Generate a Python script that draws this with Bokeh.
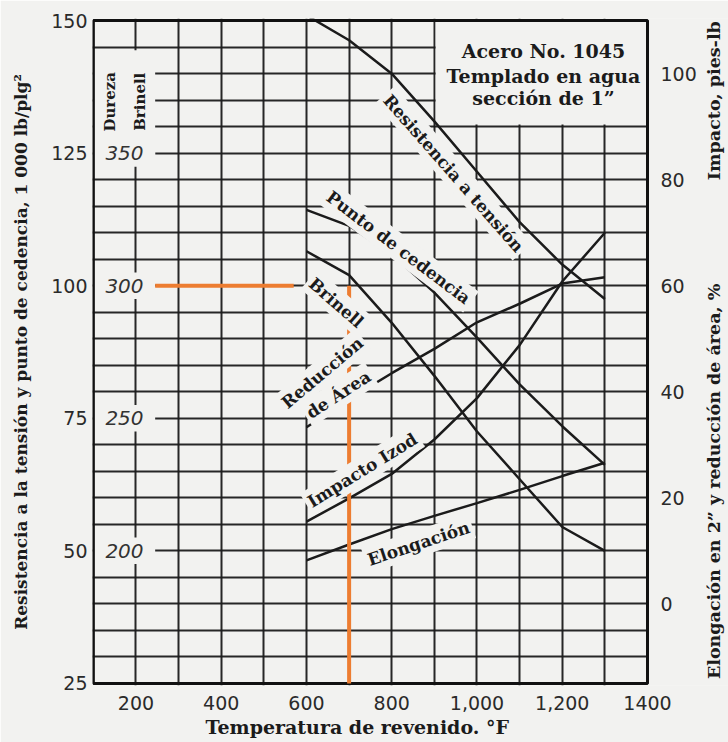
import math
from bokeh.plotting import figure
from bokeh.models import Range1d, LinearAxis, FixedTicker, Label, Title
from bokeh.embed import file_html
from bokeh.resources import INLINE
from bokeh.core.properties import value

# ---------------- data ----------------
temp_f = [600, 700, 800, 900, 1000, 1100, 1200, 1300]
tensile_ksi = [151, 146.3, 140, 131, 121.5, 112, 104, 97.5]
yield_ksi = [114.3, 111.3, 105.9, 98.7, 90.2, 81.4, 73.5, 66.2]
brinell_hb = [313, 304, 286, 266, 245, 227, 209, 200]
reduction_area_pct = [33.3, 38.6, 43.5, 48.1, 53.1, 56.6, 60.4, 61.6]
impact_izod_ftlb = [15.5, 19.9, 24.5, 31.0, 38.8, 48.8, 60.8, 70.0]
elongation_pct = [8.2, 11.2, 14.1, 16.6, 19.0, 21.5, 24.1, 26.6]

x_ticks = [200, 400, 600, 800, 1000, 1200, 1400]
x_tick_labels = ["200", "400", "600", "800", "1,000", "1,200", "1400"]
left_ticks = [25, 50, 75, 100, 125, 150]
right_ticks = [0, 20, 40, 60, 80, 100]
brinell_ticks = [200, 250, 300, 350]

# chart box (data extent of the printed grid)
T_MIN, T_MAX = 100, 1400
S_MIN, S_MAX = 25, 150

# reading guide (orange): Brinell 300 at 700 °F
guide_temp_f = 700
guide_ksi = 100
guide_h_from, guide_h_to = 245, 570

right_title_low = "Elongación en 2\u201d y reducción de área, %"
right_title_high = "Impacto, pies-lb"

# ---------------- style ----------------
BG = "#f2f2f0"
INK = "#1b1b1b"
ORANGE = "#ED7D31"
SERIF = "DejaVu Serif"
SANS = "DejaVu Sans"

# the frame is widened to the right edge of the page so that the right-hand
# titles (reading upwards) can be placed as labels
X_END = 1590
p = figure(width=728, height=742,
           x_range=Range1d(98, X_END), y_range=Range1d(24.6, 150.4),
           output_backend="svg", toolbar_location=None,
           min_border_left=92, min_border_right=0,
           min_border_top=18, min_border_bottom=57,
           background_fill_color=BG, border_fill_color=BG)
p.extra_y_ranges = {"right": Range1d(-15.4, 110.4), "brinell": Range1d(149.2, 400.8)}
p.outline_line_color = None

# grid
p.xgrid.ticker = FixedTicker(ticks=list(range(200, 1400, 100)))
p.ygrid.ticker = FixedTicker(ticks=list(range(30, 150, 5)))
for g in (p.xgrid[0], p.ygrid[0]):
    g.grid_line_color = INK
    g.grid_line_width = 2
    g.grid_line_alpha = 0.95

# axes
xa = p.xaxis[0]
xa.ticker = FixedTicker(ticks=x_ticks)
xa.major_label_overrides = {t: s for t, s in zip(x_ticks, x_tick_labels)}
xa.major_label_standoff = 10

ya = p.yaxis[0]
ya.ticker = FixedTicker(ticks=left_ticks)
ya.axis_label = "Resistencia a la tensión y punto de cedencia, 1 000 lb/plg²"
ya.major_label_standoff = 5
ya.axis_label_standoff = 17

ra = LinearAxis(y_range_name="right", ticker=FixedTicker(ticks=right_ticks),
                fixed_location=T_MAX)
ra.major_label_standoff = 13
p.add_layout(ra, "right")

for ax in (xa, ya, ra):
    ax.axis_line_color = None
    ax.major_tick_line_color = None
    ax.minor_tick_line_color = None
    ax.major_tick_out = 0
    ax.major_tick_in = 0
    ax.minor_tick_out = 0
    ax.minor_tick_in = 0
    ax.major_label_text_font = SANS
    ax.major_label_text_font_size = "19px"
    ax.major_label_text_color = "#2a2a2a"
    ax.axis_label_text_font = SERIF
    ax.axis_label_text_font_style = "bold"
    ax.axis_label_text_color = INK
ya.axis_label_text_font_size = "17px"

p.add_layout(Title(text="Temperatura de revenido. °F", align="left", offset=113,
                   standoff=2, text_font=SERIF, text_font_size="19px",
                   text_font_style="bold", text_color=INK), "below")

# masks (blank areas of the printed grid)
p.quad(left=[T_MAX], right=[X_END], bottom=[24.6], top=[150.4], fill_color=BG, line_color=None)
p.quad(left=[903], right=[T_MAX], bottom=[130.4], top=[S_MAX], fill_color=BG, line_color=None)
p.quad(left=[T_MIN], right=[245], bottom=[122.5], top=[144.4], fill_color=BG, line_color=None)
p.quad(left=[T_MIN] * len(brinell_ticks), right=[245] * len(brinell_ticks),
       bottom=[b - 5 for b in brinell_ticks], top=[b + 5 for b in brinell_ticks],
       y_range_name="brinell", fill_color=BG, line_color=None)

# Brinell inner scale
p.text(x=[173] * len(brinell_ticks), y=brinell_ticks, text=[str(b) for b in brinell_ticks],
       y_range_name="brinell", text_font=value(SANS), text_font_style="italic",
       text_font_size="20px", text_align="center", text_baseline="middle", text_color="#333333")

# curves
lw = 2.5
p.line(temp_f, tensile_ksi, line_color=INK, line_width=lw)
p.line(temp_f, yield_ksi, line_color=INK, line_width=lw)
p.line(temp_f, brinell_hb, y_range_name="brinell", line_color=INK, line_width=lw)
p.line(temp_f, reduction_area_pct, y_range_name="right", line_color=INK, line_width=lw)
p.line(temp_f, impact_izod_ftlb, y_range_name="right", line_color=INK, line_width=lw)
p.line(temp_f, elongation_pct, y_range_name="right", line_color=INK, line_width=lw)

# cover the tensile curve above the chart box, then draw the box outline
p.quad(left=[T_MIN], right=[T_MAX], bottom=[S_MAX], top=[150.4], fill_color=BG, line_color=None)
p.quad(left=[T_MIN], right=[T_MAX], bottom=[S_MIN], top=[S_MAX],
       fill_color=None, line_color="#111111", line_width=3)

# orange reading guide
p.segment(x0=[guide_h_from], y0=[guide_ksi], x1=[guide_h_to], y1=[guide_ksi],
          line_color=ORANGE, line_width=4)
p.segment(x0=[guide_temp_f], y0=[S_MIN], x1=[guide_temp_f], y1=[guide_ksi],
          line_color=ORANGE, line_width=4)


def lab(text, x, y, deg, size="17px", bg=True, font=SERIF, style="bold"):
    l = Label(x=x, y=y, text=text, angle=math.radians(deg),
              text_align="center", text_baseline="middle",
              text_font=font, text_font_style=style, text_font_size=size,
              text_color=INK)
    if bg:
        l.background_fill_color = BG
        l.padding = 3
    p.add_layout(l)
    return l


# curve labels
lab("Resistencia a tensión", 945, 121.2, -48.8)
lab("Punto de cedencia", 816, 107.2, -37)
lab("Brinell", 670, 96.8, -41)
lab("Reducción", 637, 83.6, 40)
lab("de Área", 675, 79.5, 33)
lab("Impacto Izod", 731, 65.2, 31.7)
lab("Elongación", 863, 51.4, 18.4)

# title box
lab("Acero No. 1045", 1156, 144.3, 0, size="19px", bg=False)
lab("Templado en agua", 1156, 139.6, 0, size="19px", bg=False)
lab("sección de 1\u201d", 1156, 135.5, 0, size="19px", bg=False)

# Dureza Brinell
lab("Dureza", 140, 134.7, 90, size="15px", bg=False)
lab("Brinell", 210, 134.7, 90, size="15px", bg=False)

# right-hand titles, reading upwards
lab(right_title_high, 1557, 134.9, 90, size="17.5px", bg=False)
lab(right_title_low, 1557, 63.1, 90, size="17.5px", bg=False)

open("out.html", "w").write(file_html(p, INLINE))
